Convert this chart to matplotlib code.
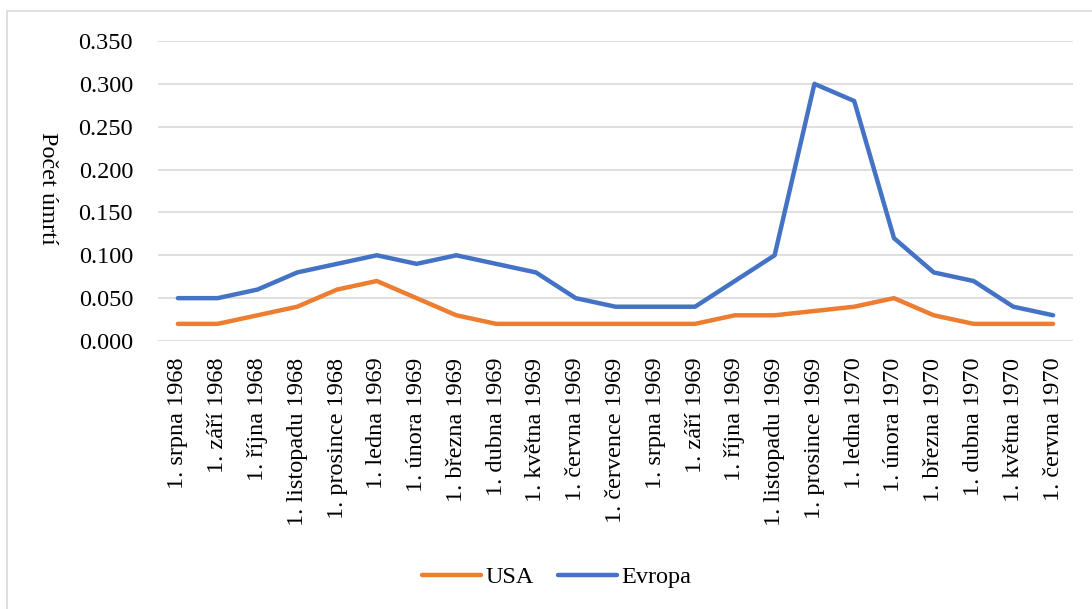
import matplotlib
matplotlib.use("Agg")
import matplotlib.pyplot as plt
from matplotlib.patches import Rectangle
import numpy as np

plt.rcParams['font.family'] = ['Liberation Serif', 'DejaVu Serif']

months = ['1. srpna 1968', '1. září 1968', '1. října 1968', '1. listopadu 1968',
          '1. prosince 1968', '1. ledna 1969', '1. února 1969', '1. března 1969',
          '1. dubna 1969', '1. května 1969', '1. června 1969', '1. července 1969',
          '1. srpna 1969', '1. září 1969', '1. října 1969', '1. listopadu 1969',
          '1. prosince 1969', '1. ledna 1970', '1. února 1970', '1. března 1970',
          '1. dubna 1970', '1. května 1970', '1. června 1970']
usa = [0.02, 0.02, 0.03, 0.04, 0.06, 0.07, 0.05, 0.03, 0.02, 0.02, 0.02, 0.02,
       0.02, 0.02, 0.03, 0.03, 0.035, 0.04, 0.05, 0.03, 0.02, 0.02, 0.02]
evropa = [0.05, 0.05, 0.06, 0.08, 0.09, 0.10, 0.09, 0.10, 0.09, 0.08, 0.05, 0.04,
          0.04, 0.04, 0.07, 0.10, 0.30, 0.28, 0.12, 0.08, 0.07, 0.04, 0.03]
yticks = [0.0, 0.05, 0.10, 0.15, 0.20, 0.25, 0.30, 0.35]

W, H = 1092, 609
FS = 17.5
fig = plt.figure(figsize=(W / 100, H / 100), dpi=100)
ax = fig.add_axes([158 / W, 1 - 341 / H, (1073 - 158) / W, 300 / H])

# chart border like the Excel chart area
fig.patches.append(Rectangle((7 / W, -0.05), 1.1, 1 - 11 / H + 0.05,
                             transform=fig.transFigure, fill=False,
                             edgecolor='#D9D9D9', linewidth=1.2))

x = np.arange(len(months))
ax.plot(x, usa, color='#ED7D31', linewidth=3.2, label='USA', solid_capstyle='round')
ax.plot(x, evropa, color='#4472C4', linewidth=3.2, label='Evropa', solid_capstyle='round')

ax.set_xlim(-0.5, len(months) - 0.5)
ax.set_ylim(0, 0.35)
ax.set_yticks(yticks)
ax.set_yticklabels([f'{v:.3f}' for v in yticks], fontsize=FS)
ax.set_xticks(x)
ax.set_xticklabels(months, rotation=90, fontsize=FS)
ax.tick_params(axis='y', length=0, pad=18)
ax.tick_params(axis='x', length=0, pad=12)
ax.grid(axis='y', color='#D9D9D9', linewidth=1.2)
ax.set_axisbelow(True)
for s in ax.spines.values():
    s.set_visible(False)

fig.text(47 / W, 1 - 188 / H, 'Počet úmrtí', rotation=-90, fontsize=FS,
         ha='center', va='center')

fig.legend(loc='center', bbox_to_anchor=(557 / W, 1 - 577 / H), ncol=2,
           frameon=False, fontsize=FS, handlelength=2.4, handletextpad=0.2,
           columnspacing=1.0)

fig.savefig('out.png', dpi=100)
